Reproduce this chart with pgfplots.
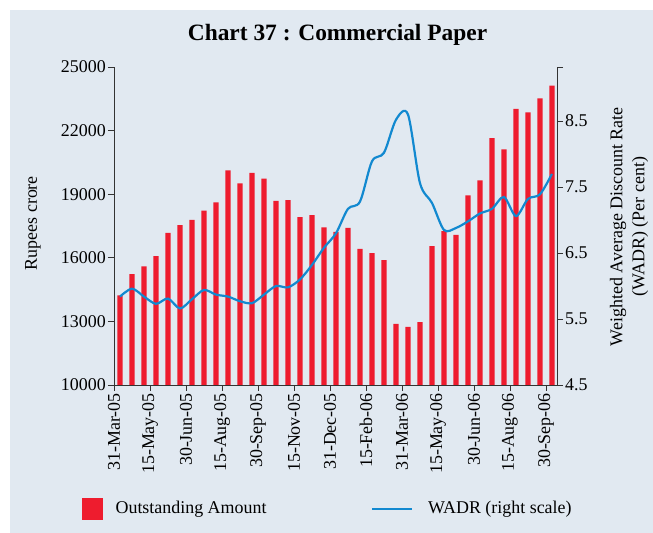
\documentclass[border=0pt]{standalone}
\usepackage{pgfplots}
\pgfplotsset{compat=1.18}
\usepackage{pgfplotstable}
\usepackage{fontspec}
\setmainfont{Liberation Serif}
\definecolor{bgcol}{HTML}{E1E9F1}
\definecolor{cpred}{HTML}{EE1C2E}
\definecolor{cpblue}{HTML}{1289D0}

\pgfplotstableread{
x amt
0 14230
1 15230
2 15600
3 16080
4 17180
5 17540
6 17790
7 18220
8 18610
9 20120
10 19510
11 20010
12 19730
13 18690
14 18720
15 17920
16 18010
17 17430
18 17220
19 17410
20 16420
21 16220
22 15890
23 12880
24 12740
25 12970
26 16550
27 17260
28 17080
29 18940
30 19650
31 21650
32 21110
33 23030
34 22860
35 23520
36 24120
}\amttable

\pgfplotstableread{
x wadr
0 5.84
1 5.96
2 5.84
3 5.73
4 5.81
5 5.66
6 5.80
7 5.94
8 5.87
9 5.84
10 5.77
11 5.74
12 5.87
13 6.00
14 5.98
15 6.10
16 6.32
17 6.58
18 6.80
19 7.17
20 7.28
21 7.89
22 8.02
23 8.52
24 8.60
25 7.56
26 7.26
27 6.85
28 6.88
29 6.98
30 7.10
31 7.17
32 7.35
33 7.06
34 7.32
35 7.39
36 7.70
}\wadrtable

\begin{document}
\fontsize{18}{22}\selectfont
\begin{tikzpicture}
\path[use as bounding box] (0,0) rectangle (653bp,533bp);
\fill[bgcol] (10bp,0) rectangle (653bp,523bp);
\pgfplotsset{
  every axis/.append style={
    scale only axis, width=443bp, height=318bp,
    at={(114bp,148bp)}, anchor=south west,
    xmin=-0.5, xmax=36.42,
    axis line style={-, black!80, line width=0.8pt},
    tick style={black!80, line width=0.8pt},
    tick align=outside,
    major tick length=6bp,
    /pgf/number format/assume math mode=true,
    tick label style={font=\fontsize{18}{22}\selectfont},
    label style={font=\fontsize{18}{22}\selectfont},
  }
}
\begin{axis}[
  axis x line*=bottom, axis y line*=left,
  ymin=10000, ymax=25000,
  ytick={10000,13000,16000,19000,22000,25000},
  yticklabel style={/pgf/number format/fixed, /pgf/number format/1000 sep={}, inner sep=2bp},
  scaled y ticks=false,
  xtick={-0.5,2.5,...,35.5},
  xticklabels={31-Mar-05,15-May-05,30-Jun-05,15-Aug-05,30-Sep-05,15-Nov-05,31-Dec-05,15-Feb-06,31-Mar-06,15-May-06,30-Jun-06,15-Aug-06,30-Sep-06},
  xticklabel style={rotate=90, anchor=east, inner sep=2bp},
  ylabel={Rupees crore},
  ylabel style={at={(rel axis cs:-0.183,0.509)}, anchor=center, rotate=0},
  title={\bfseries Chart 37 : Commercial Paper},
  title style={font=\fontsize{23.5}{28}\selectfont, at={(rel axis cs:0.5045,1.063)}, anchor=base},
  clip=false,
]
\addplot[ybar, bar width=5.3bp, fill=cpred, draw=none] table[x=x, y=amt] {\amttable};
\end{axis}
\begin{axis}[
  axis x line=none, axis y line*=right,
  ymin=4.5, ymax=9.32,
  ytick={4.5,5.5,6.5,7.5,8.5,9.32},
  yticklabels={4.5,5.5,6.5,7.5,8.5,{}},
  yticklabel style={inner sep=2bp},
  ylabel={Weighted Average Discount Rate\\(WADR) (Per cent)},
  ylabel style={align=center, at={(rel axis cs:1.1625,0.498)}, anchor=center, rotate=0},
  legend columns=2,
  legend style={draw=none, fill=none, at={(rel axis cs:-0.079,-0.39)}, anchor=west,
    font=\fontsize{18}{22}\selectfont,
    /tikz/every even column/.append style={column sep=0bp},
    nodes={inner sep=3bp}},
  legend cell align=left,
]
\addlegendimage{legend image code/.code={\fill[cpred] (0bp,-10.5bp) rectangle (20bp,10.5bp);}}
\addlegendentry{\hspace*{10bp}\makebox[253bp][l]{Outstanding Amount}}
\addplot[cpblue, line width=2.2pt, smooth, tension=0.5, legend image code/.code={\draw[cpblue, line width=1.6pt] (0bp,0bp) -- (40bp,0bp);}] table[x=x, y=wadr] {\wadrtable};
\addlegendentry{\hspace*{12bp}WADR (right scale)}
\end{axis}
\end{tikzpicture}
\end{document}
